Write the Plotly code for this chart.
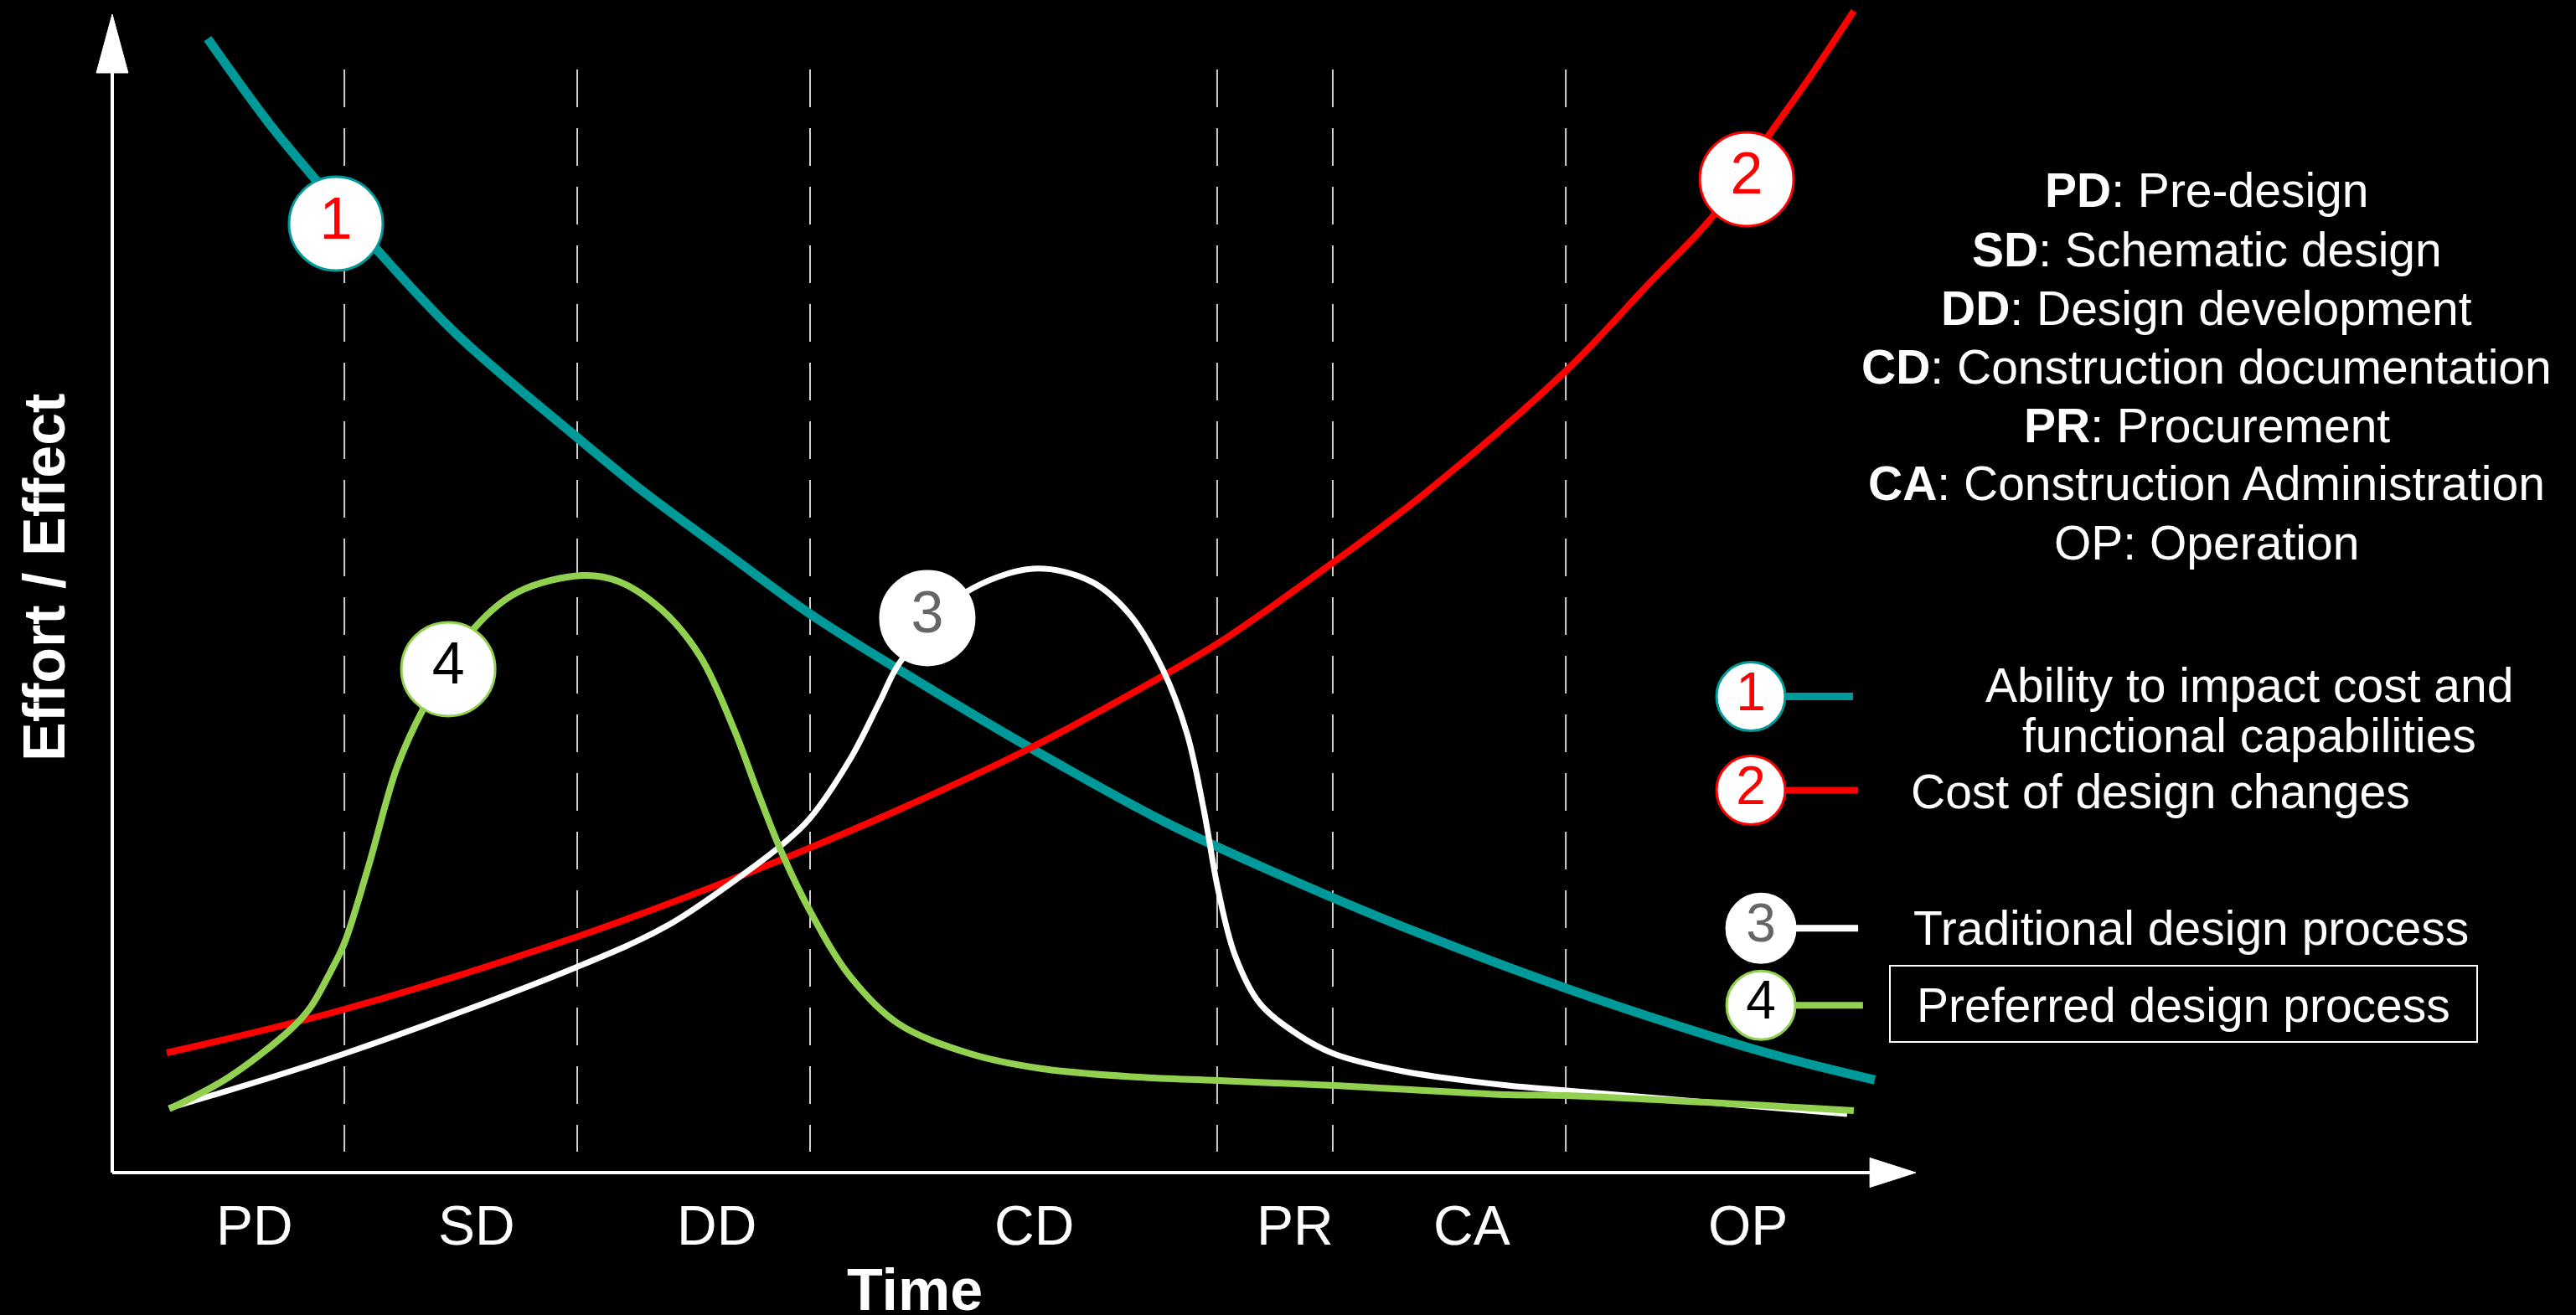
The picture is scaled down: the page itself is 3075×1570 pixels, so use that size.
import plotly.graph_objects as go

# ---------------- data ----------------
phase_codes = ["PD", "SD", "DD", "CD", "PR", "CA", "OP"]
phase_names = ["Pre-design", "Schematic design", "Design development",
               "Construction documentation", "Procurement",
               "Construction Administration", "Operation"]
phase_label_x = [7.9, 20.2, 33.5, 51.1, 65.6, 75.4, 90.7]
phase_bounds = [12.87, 25.78, 38.69, 61.26, 67.67, 80.59]

series_names = ["Ability to impact cost and functional capabilities",
                "Cost of design changes",
                "Traditional design process",
                "Preferred design process"]
series_numbers = ["1", "2", "3", "4"]

# 1 - Ability to impact cost and functional capabilities
ability_x = [5.29, 8.69, 11.38, 14.63, 19.09, 25.82, 29.45, 33.86, 38.69, 43.57,
             50.91, 58.24, 61.31, 67.72, 72.74, 80.63, 86.95, 92.29, 97.72]
ability_y = [97.90, 90.60, 85.54, 79.75, 72.38, 63.41, 58.79, 53.72, 48.23, 43.46,
             36.66, 30.37, 28.10, 23.70, 20.50, 15.90, 12.60, 10.10, 8.00]

# 2 - Cost of design changes
cost_x = [3.02, 12.87, 25.82, 34.46, 38.69, 43.57, 50.91, 58.24, 61.31, 67.72,
          72.74, 80.63, 85.18, 88.71, 91.73, 94.06, 96.56]
cost_y = [10.34, 14.10, 20.39, 25.38, 28.05, 31.31, 36.66, 42.88, 45.70, 52.71,
          58.60, 69.27, 76.72, 82.50, 89.30, 94.43, 100.29]

# 3 - Traditional design process
trad_x = [3.16, 12.87, 25.82, 30.75, 34.46, 37.16, 38.64, 40.92, 42.50, 43.57,
          45.33, 47.33, 51.05, 54.25, 56.39, 58.24, 59.59, 60.52, 61.31, 62.24,
          63.59, 65.72, 67.72, 71.57, 77.38, 80.63, 96.19]
trad_y = [5.57, 10.27, 17.79, 21.30, 25.16, 28.34, 30.51, 35.72, 40.49, 43.82,
          47.14, 50.11, 52.13, 51.05, 48.23, 43.46, 37.89, 31.31, 24.44, 18.80,
          14.68, 11.93, 10.27, 8.75, 7.52, 7.09, 5.06]

# 4 - Preferred design process
pref_x = [3.16, 6.46, 9.94, 11.01, 12.08, 12.87, 14.21, 15.79, 17.28, 18.67,
          20.07, 22.48, 26.06, 28.05, 30.47, 32.61, 34.46, 35.81, 37.16, 38.74,
          40.92, 43.57, 47.56, 51.56, 56.90, 61.31, 67.72, 77.38, 80.63, 96.56]
pref_y = [5.50, 8.24, 12.44, 14.32, 17.28, 19.81, 26.46, 35.00, 40.13, 43.60,
          47.00, 50.11, 51.55, 51.05, 48.59, 44.54, 38.32, 32.75, 27.48, 22.42,
          16.92, 12.87, 10.27, 8.97, 8.24, 7.95, 7.52, 6.72, 6.65, 5.35]

# numbered badges sitting on the curves
badge_x = [12.40, 90.62, 45.19, 18.63]
badge_y = [81.92, 85.76, 47.87, 43.46]

# ---------------- styling ----------------
FONT = "Liberation Sans, Arial, sans-serif"
TEAL = "#009999"
RED = "#ff0000"
WHITE = "#ffffff"
GREEN = "#92d050"
line_colors = [TEAL, RED, WHITE, GREEN]
line_widths = [11, 8, 7, 8]
digit_colors = [RED, RED, "#666666", "#000000"]

curves = [(ability_x, ability_y), (cost_x, cost_y), (trad_x, trad_y), (pref_x, pref_y)]

fig = go.Figure()

# phase boundary dashed lines
dx, dy = [], []
for b in phase_bounds:
    dx += [b, b, None]
    dy += [95.23, 1.81, None]
fig.add_trace(go.Scatter(x=dx, y=dy, mode="lines", hoverinfo="skip",
                         line=dict(color="#d0d0d0", width=2, dash="45px,25px")))

for i, (xs, ys) in enumerate(curves):
    fig.add_trace(go.Scatter(x=xs, y=ys, mode="lines", name=series_names[i],
                             line=dict(color=line_colors[i], width=line_widths[i],
                                       shape="spline", smoothing=1.0)))

# badges on curves
fig.add_trace(go.Scatter(
    x=badge_x, y=badge_y, mode="markers+text", text=series_numbers,
    textposition="middle center", cliponaxis=False,
    textfont=dict(family=FONT, size=70, color=digit_colors),
    marker=dict(size=112, color=WHITE, line=dict(color=line_colors, width=3))))

# legend entries
leg_x0 = [90.85, 90.85, 91.41, 91.41]
leg_x1 = [96.52, 96.80, 96.80, 97.07]
leg_y = [41.1, 33.0, 21.1, 14.45]
leg_w = [9, 8, 8, 8]
for i in range(4):
    fig.add_trace(go.Scatter(x=[leg_x0[i], leg_x1[i]], y=[leg_y[i], leg_y[i]],
                             mode="lines", line=dict(color=line_colors[i], width=leg_w[i])))
fig.add_trace(go.Scatter(
    x=leg_x0, y=leg_y, mode="markers+text", text=series_numbers,
    textposition="middle center", cliponaxis=False,
    textfont=dict(family=FONT, size=64, color=digit_colors),
    marker=dict(size=82, color=WHITE, line=dict(color=line_colors, width=3))))

annotations = []
# legend texts
leg_text_pos = [(118.49, 41.94), (113.56, 32.90), (115.24, 21.11), (114.82, 14.46)]
for i, name in enumerate(series_names):
    if i == 0:
        annotations.append(dict(x=118.49, y=42.05, text="Ability to impact cost and"))
        annotations.append(dict(x=118.50, y=37.72, text="functional capabilities"))
    else:
        annotations.append(dict(x=leg_text_pos[i][0], y=leg_text_pos[i][1], text=name))
for a in annotations:
    a.update(xref="x", yref="y", showarrow=False, xanchor="center", yanchor="middle",
             font=dict(family=FONT, size=57, color=WHITE))

# abbreviation list
abbr_y = [84.82, 79.68, 74.62, 69.56, 64.50, 59.51, 54.37]
for code, nm, yy in zip(phase_codes, phase_names, abbr_y):
    label = f"{code}: {nm}" if code == "OP" else f"<b>{code}</b>: {nm}"
    annotations.append(dict(x=116.12, y=yy, xref="x", yref="y", text=label,
                            showarrow=False, xanchor="center", yanchor="middle",
                            font=dict(family=FONT, size=57, color=WHITE)))

# phase labels under the time axis
for code, xx in zip(phase_codes, phase_label_x):
    annotations.append(dict(x=xx, y=-4.56, xref="x", yref="y", text=code,
                            showarrow=False, xanchor="center", yanchor="middle",
                            font=dict(family=FONT, size=66, color=WHITE)))

# axis titles
annotations.append(dict(x=44.5, y=-10.12, xref="x", yref="y", text="<b>Time</b>",
                        showarrow=False, xanchor="center", yanchor="middle",
                        font=dict(family=FONT, size=70, color=WHITE)))
annotations.append(dict(x=-3.76, y=51.34, xref="x", yref="y", text="<b>Effort / Effect</b>",
                        textangle=-90, showarrow=False, xanchor="center", yanchor="middle",
                        font=dict(family=FONT, size=70, color=WHITE)))

shapes = [
    # axes
    dict(type="line", xref="x", yref="y", x0=0, y0=0, x1=0, y1=95.5,
         line=dict(color=WHITE, width=4)),
    dict(type="line", xref="x", yref="y", x0=0, y0=0, x1=97.6, y1=0,
         line=dict(color=WHITE, width=4)),
    dict(type="path", xref="x", yref="y", path="M -0.88,94.94 L 0,100 L 0.88,94.94 Z",
         fillcolor=WHITE, line=dict(color=WHITE, width=1)),
    dict(type="path", xref="x", yref="y", path="M 97.45,1.27 L 100,0 L 97.45,-1.27 Z",
         fillcolor=WHITE, line=dict(color=WHITE, width=1)),
    # box around "Preferred design process"
    dict(type="rect", xref="x", yref="y", x0=98.56, x1=131.12, y0=11.28, y1=17.86,
         line=dict(color=WHITE, width=2)),
]

fig.update_layout(
    width=3075, height=1570, autosize=False,
    margin=dict(l=0, r=0, t=0, b=0, pad=0),
    paper_bgcolor="#000000", plot_bgcolor="rgba(0,0,0,0)",
    showlegend=False,
    xaxis=dict(range=[-6.224, 136.60], visible=False, domain=[0, 1], fixedrange=True),
    yaxis=dict(range=[-12.292, 101.23], visible=False, domain=[0, 1], fixedrange=True),
    annotations=annotations, shapes=shapes,
)

fig.write_html("out.html", config={"displayModeBar": False},
               post_script="document.body.style.margin='0';document.body.style.overflow='hidden';")
